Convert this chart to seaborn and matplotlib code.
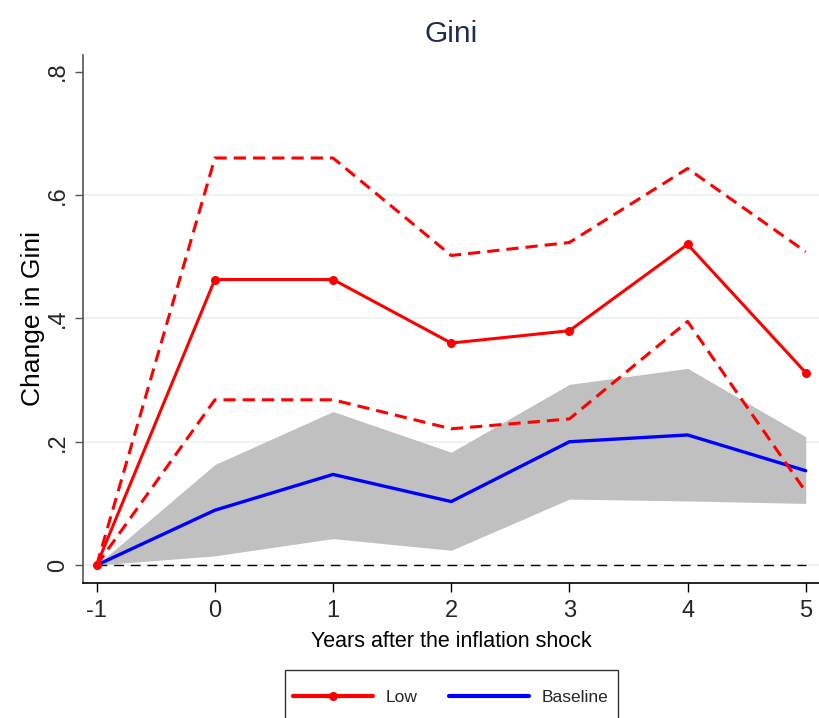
import matplotlib
matplotlib.use("Agg")
import matplotlib.pyplot as plt
from matplotlib.lines import Line2D
from matplotlib.transforms import ScaledTranslation
import numpy as np
import pandas as pd
import seaborn as sns

# Impulse responses of the Gini coefficient
years = [-1, 0, 1, 2, 3, 4, 5]
low = [0.0, 0.463, 0.463, 0.360, 0.380, 0.520, 0.312]
low_upper = [0.0, 0.660, 0.660, 0.502, 0.523, 0.643, 0.508]
low_lower = [0.0, 0.268, 0.268, 0.221, 0.237, 0.395, 0.119]
baseline = [0.0, 0.089, 0.147, 0.103, 0.200, 0.211, 0.153]
base_upper = [0.0, 0.163, 0.249, 0.183, 0.293, 0.319, 0.208]
base_lower = [0.0, 0.015, 0.043, 0.024, 0.107, 0.104, 0.100]

y_ticks = [0, 0.2, 0.4, 0.6, 0.8]
y_ticklabels = ["0", ".2", ".4", ".6", ".8"]
x_ticks = [-1, 0, 1, 2, 3, 4, 5]

df = pd.DataFrame({
    "year": years,
    "low": low,
    "low_upper": low_upper,
    "low_lower": low_lower,
    "baseline": baseline,
    "base_upper": base_upper,
    "base_lower": base_lower,
})

sns.set_theme(style="white")
plt.rcParams["font.family"] = ["Liberation Sans", "DejaVu Sans"]

RED = "#ff0000"
BLUE = "#0000ff"
GREY = "#c0c0c0"

fig = plt.figure(figsize=(8.19, 7.18), dpi=100)
ax = fig.add_axes([83 / 819, 1 - 583 / 718, 1 - 83 / 819, (583 - 55) / 718])

# confidence band of the baseline response
ax.fill_between(df["year"], df["base_lower"], df["base_upper"], color=GREY, lw=0, zorder=1)

# zero reference line
ax.plot([-1, 5], [0, 0], color="black", lw=1.0, dashes=(7, 5), zorder=2)

sns.lineplot(data=df, x="year", y="baseline", ax=ax, color=BLUE, lw=2.4, zorder=3)
sns.lineplot(data=df, x="year", y="low_upper", ax=ax, color=RED, lw=2.2, zorder=4,
             dashes=False).lines[-1].set_dashes((4, 2.3))
sns.lineplot(data=df, x="year", y="low_lower", ax=ax, color=RED, lw=2.2, zorder=4,
             dashes=False).lines[-1].set_dashes((4, 2.3))
sns.lineplot(data=df, x="year", y="low", ax=ax, color=RED, lw=2.2, zorder=5,
             marker="o", markersize=6.5, markeredgewidth=0)

ax.set_xlim(-1.116, 5.112)
ax.set_ylim(-0.029, 0.827)

ax.set_xticks(x_ticks)
ax.set_xticklabels([str(v) for v in x_ticks])
ax.set_yticks(y_ticks)
ax.set_yticklabels(y_ticklabels, rotation=90, va="center")

ax.tick_params(axis="x", length=6.5, width=1, color="black", pad=6, labelsize=17)
ax.tick_params(axis="y", length=6, width=1, color="#555555", pad=4, labelsize=17)
ax.tick_params(left=True, bottom=True)

ax.yaxis.grid(True, color="#eaf2f3", lw=1.3, zorder=0)
ax.xaxis.grid(False)
ax.get_ygridlines()[-1].set_visible(False)
ax.set_axisbelow(True)

for side in ["top", "right"]:
    ax.spines[side].set_visible(False)
ax.spines["left"].set_color("#555555")
ax.spines["left"].set_linewidth(1.2)
ax.spines["bottom"].set_color("black")
ax.spines["bottom"].set_linewidth(1.2)

ax.set_xlabel("Years after the inflation shock", fontsize=15.5, labelpad=6, color="black")
ax.set_ylabel("Change in Gini", fontsize=19, color="black")
ax.yaxis.set_label_coords(-0.052, 0.5)
ax.set_title("Gini", fontsize=21.5, color="#1c2d52", pad=9)

handles = [
    Line2D([], [], color=RED, lw=3, marker="o", markersize=6.5, markeredgewidth=0),
    Line2D([], [], color=BLUE, lw=3),
]
leg = fig.legend(handles, ["Low", "Baseline"], loc="upper center",
                 bbox_to_anchor=(451 / 819, 1 - 670 / 718), ncol=2, fontsize=12.5,
                 frameon=True, fancybox=False, handlelength=4.6, handletextpad=0.75,
                 handleheight=5.0, columnspacing=1.8, borderpad=0.5, borderaxespad=0)
leg.get_frame().set_edgecolor("black")
leg.get_frame().set_linewidth(1.0)

# centre the legend labels on their line handles
fig.canvas.draw()
renderer = fig.canvas.get_renderer()
for h, t in zip(leg.legend_handles, leg.texts):
    hb = h.get_window_extent(renderer)
    tb = t.get_window_extent(renderer)
    dy = (hb.y0 + hb.y1) / 2 - (tb.y0 + tb.y1) / 2 - 1.5
    t.set_transform(t.get_transform() + ScaledTranslation(0, dy / fig.dpi, fig.dpi_scale_trans))

fig.savefig("out.png", dpi=100)
